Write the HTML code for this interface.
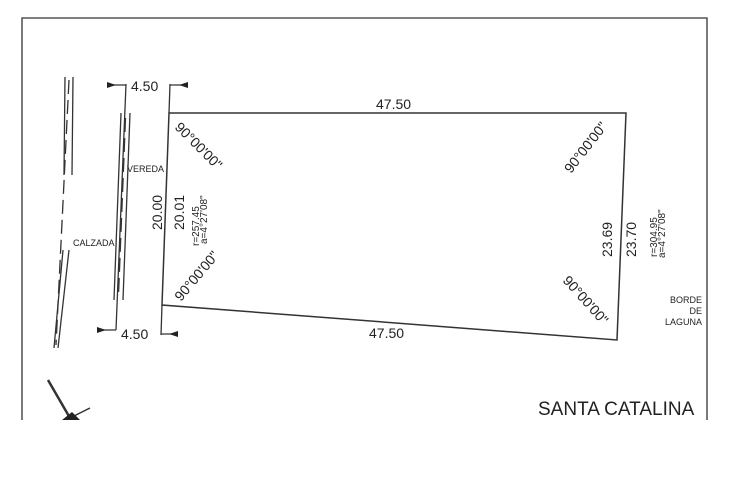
<!DOCTYPE html>
<html><head><style>body{margin:0;background:#fff}svg{display:block}text{font-family:"Liberation Sans",sans-serif;fill:#222}</style></head>
<body>
<svg width="747" height="491" viewBox="0 0 747 491" xmlns="http://www.w3.org/2000/svg">
<g stroke="#333" fill="none" stroke-width="1.3">
<polyline points="22,420 22,18 707,18 707,420"/>
<polygon points="169,113 626,113 617,340 162,305" stroke-width="1.5"/>
<line x1="169" y1="113" x2="170" y2="84"/>
<line x1="162" y1="305" x2="161" y2="335"/>
<line x1="126" y1="84" x2="116" y2="330"/>
<line x1="107" y1="85" x2="126" y2="85"/><line x1="170" y1="85" x2="188" y2="85"/>
<line x1="97" y1="330" x2="116" y2="330"/><line x1="161" y1="334" x2="178" y2="334"/>
<line x1="65" y1="77" x2="64" y2="175"/><line x1="73" y1="77" x2="72" y2="175"/>
<line x1="63" y1="250" x2="54" y2="348"/><line x1="69" y1="250" x2="58" y2="348"/>
<line x1="69" y1="80" x2="56" y2="345" stroke-dasharray="14,6"/>
<line x1="121" y1="113" x2="114" y2="300"/><line x1="130" y1="113" x2="123" y2="300"/>
<line x1="125.5" y1="118" x2="118.5" y2="295" stroke-dasharray="14,6"/>
<line x1="48" y1="380" x2="70" y2="418" stroke-width="2.5"/>
<line x1="70" y1="418" x2="90" y2="408" stroke-width="1.5"/>
</g>
<g fill="#222">
<polygon points="107,82 107,88 116,85"/><polygon points="188,82 188,88 179,85"/>
<polygon points="97,327 97,333 106,330"/><polygon points="178,331 178,337 169,334"/>
<polygon points="62,420 80,420 72,412"/>
</g>
<g font-size="14">
<text x="131" y="91">4.50</text>
<text x="121" y="339">4.50</text>
<text x="376" y="109">47.50</text>
<text x="369" y="338">47.50</text>
<text transform="translate(162,230) rotate(-90)">20.00</text>
<text transform="translate(184,230) rotate(-90)">20.01</text>
<text transform="translate(612,257) rotate(-90)">23.69</text>
<text transform="translate(636,257) rotate(-90)">23.70</text>
<text transform="translate(174,128) rotate(45)">90°00'00"</text>
<text transform="translate(181,302) rotate(-50)">90°00'00"</text>
<text transform="translate(571,174) rotate(-52)">90°00'00"</text>
<text transform="translate(562,281) rotate(48)">90°00'00"</text>
</g>
<g font-size="10">
<text transform="translate(199,246) rotate(-90)">r=257.45</text>
<text transform="translate(207,244) rotate(-90)">a=4°27'08"</text>
<text transform="translate(657,257) rotate(-90)">r=304.95</text>
<text transform="translate(665,258) rotate(-90)">a=4°27'08"</text>
</g>
<g font-size="9">
<text x="127" y="172">VEREDA</text>
<text x="73" y="246">CALZADA</text>
<text x="702" y="303" text-anchor="end">BORDE</text>
<text x="702" y="314" text-anchor="end">DE</text>
<text x="702" y="325" text-anchor="end">LAGUNA</text>
</g>
<text x="538" y="415" font-size="19">SANTA CATALINA</text>
</svg>
</body></html>
